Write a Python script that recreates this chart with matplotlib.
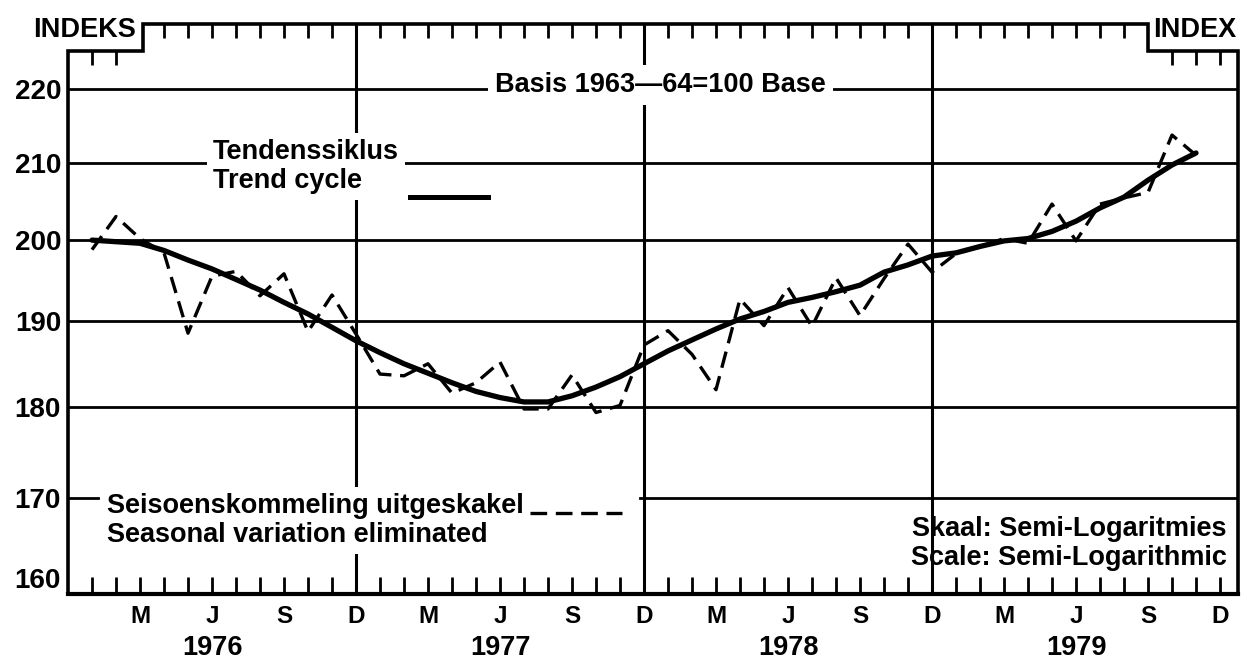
import matplotlib
matplotlib.use("Agg")
import matplotlib.pyplot as plt
from matplotlib.lines import Line2D
from matplotlib.ticker import NullLocator, NullFormatter

# ---------------- data ----------------
# month index: 0 = Dec 1975, 1 = Jan 1976, ... 48 = Dec 1979
months = list(range(1, 48))  # Jan 1976 .. Nov 1979

seasonal = [
    198.8, 203.0, 200.2, 198.4, 188.6, 195.5, 196.1, 193.1, 195.8, 188.8, 193.2, 188.5,  # 1976
    183.8, 183.6, 185.0, 181.6, 182.8, 185.2, 179.8, 179.8, 183.7, 179.4, 180.2, 187.2,  # 1977
    188.9, 186.1, 182.0, 192.7, 189.5, 194.1, 189.4, 195.3, 190.7, 195.2, 199.5, 196.0,  # 1978
    198.3, 199.2, 200.2, 199.6, 204.6, 199.9, 204.6, 205.4, 206.1, 213.7, 211.0,         # 1979
]

trend = [
    200.0, 199.8, 199.6, 198.7, 197.5, 196.4, 195.1, 193.8, 192.3, 190.9, 189.3, 187.7,  # 1976
    186.3, 185.0, 183.9, 182.8, 181.8, 181.1, 180.6, 180.6, 181.3, 182.3, 183.5, 185.0,  # 1977
    186.5, 187.8, 189.1, 190.3, 191.2, 192.3, 192.9, 193.6, 194.4, 196.0, 196.9, 198.0,  # 1978
    198.4, 199.2, 199.9, 200.2, 201.1, 202.4, 204.1, 205.5, 207.7, 209.7, 211.3,         # 1979
]

y_ticks = [160, 170, 180, 190, 200, 210, 220]
tick_months = list(range(1, 49))
quarter_letters = {3: "M", 6: "J", 9: "S", 0: "D"}
years = ["1976", "1977", "1978", "1979"]
year_months = [6, 18, 30, 42]
year_gridlines = [12, 24, 36]

# ---------------- style ----------------
plt.rcParams["font.family"] = ["Liberation Sans", "DejaVu Sans"]
plt.rcParams["font.weight"] = "bold"

W, H = 1246, 662
fig = plt.figure(figsize=(W / 100, H / 100), dpi=100)
L, R, B, T = 68, 1238, 594, 24
ax = fig.add_axes([L / W, 1 - B / H, (R - L) / W, (B - T) / H])

ax.set_yscale("log")
ax.set_ylim(160, 229.2)
ax.set_xlim(0, 48.75)

DASH = (0, (5, 2.6))

def fx(px):
    return px / W

def fy(py):
    return 1 - py / H

# grid lines
for v in y_ticks[2:]:
    ax.axhline(v, color="k", lw=2.0, zorder=1)
ax.axhline(170, xmin=0, xmax=(98 - L) / (R - L), color="k", lw=2.0, zorder=1)
ax.axhline(170, xmin=(640 - L) / (R - L), xmax=1, color="k", lw=2.0, zorder=1)
for m in year_gridlines:
    ax.axvline(m, color="k", lw=2.2, zorder=1)

# data
ax.plot(months, trend, color="k", lw=3.8, solid_capstyle="round",
        solid_joinstyle="round", zorder=3)
ax.plot(months, seasonal, color="k", lw=2.4, ls=DASH, zorder=3)

# axes / ticks
for s in ["top", "left", "right"]:
    ax.spines[s].set_visible(False)
ax.spines["bottom"].set_linewidth(3)

ax.set_yticks(y_ticks, [str(v) for v in y_ticks])
ax.yaxis.set_minor_locator(NullLocator())
ax.yaxis.set_minor_formatter(NullFormatter())
ax.tick_params(axis="y", length=0, pad=5, labelsize=20)
ax.get_yticklabels()[0].set_va("bottom")

ax.set_xticks(tick_months, [quarter_letters.get(m % 12, "") for m in tick_months])
ax.tick_params(axis="x", direction="in", length=12, width=2, pad=8, labelsize=17.5)

for yr, m in zip(years, year_months):
    ax.annotate(yr, xy=(m, 0), xycoords=("data", "axes fraction"),
                xytext=(0, -61 * 0.72), textcoords="offset points",
                ha="center", va="baseline", fontsize=19.5)

# stepped frame (top/left/right)
nf = (B - 51) / (B - T)
s1 = (143 - L) / (R - L)
s2 = (1148 - L) / (R - L)
ax.plot([0, 0, s1, s1, s2, s2, 1, 1], [0, nf, nf, 1, 1, nf, nf, 0],
        transform=ax.transAxes, color="k", lw=2.6, clip_on=False,
        solid_joinstyle="miter", zorder=4)

# top ticks
sec_top = ax.secondary_xaxis("top")
sec_top.set_xticks(list(range(4, 45)), [""] * 41)
sec_top.tick_params(direction="in", length=10, width=2)
sec_top.spines["top"].set_visible(False)

sec_notch = ax.secondary_xaxis(nf)
notch_months = [1, 2, 46, 47, 48]
sec_notch.set_xticks(notch_months, [""] * len(notch_months))
sec_notch.tick_params(direction="in", length=10, width=2)
sec_notch.spines["top"].set_visible(False)
sec_notch.spines["bottom"].set_visible(False)

# ---------------- texts ----------------
fig.text(fx(33), fy(37), "INDEKS", fontsize=19.5, va="baseline", ha="left")
fig.text(fx(1236), fy(37), "INDEX", fontsize=19.5, va="baseline", ha="right")

fig.text(fx(495), fy(92), "Basis 1963\u201464=100 Base", fontsize=19.5,
         va="baseline", ha="left",
         bbox=dict(facecolor="white", edgecolor="none", pad=5))

fig.text(fx(213), fy(188), "Tendenssiklus\nTrend cycle", fontsize=19.5,
         va="baseline", ha="left", linespacing=1.15,
         bbox=dict(facecolor="white", edgecolor="none", pad=4))
fig.add_artist(Line2D([fx(410), fx(488)], [fy(197), fy(197)], color="k", lw=3.6))

fig.text(fx(107), fy(542), "Seisoenskommeling uitgeskakel\nSeasonal variation eliminated",
         fontsize=19.5, va="baseline", ha="left", linespacing=1.15,
         bbox=dict(facecolor="white", edgecolor="none", pad=4))
fig.add_artist(Line2D([fx(530), fx(622)], [fy(513), fy(513)], color="k", lw=2.4,
                      ls=DASH))

fig.text(fx(1227), fy(565), "Skaal: Semi-Logaritmies\nScale: Semi-Logarithmic",
         fontsize=19.5, va="baseline", ha="right", linespacing=1.15)

fig.savefig("out.png", dpi=100)
